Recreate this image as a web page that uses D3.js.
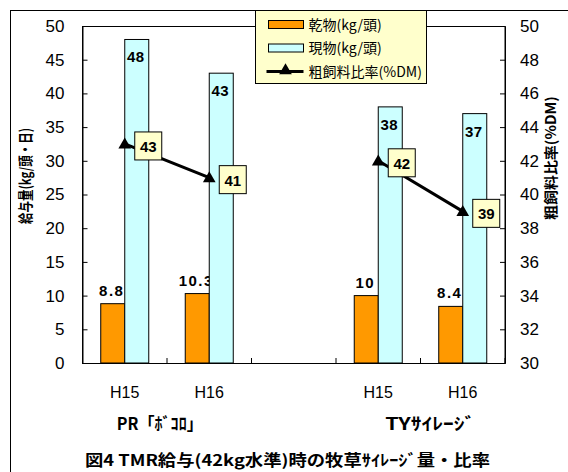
<!DOCTYPE html>
<html>
<head>
<meta charset="utf-8">
<script src="https://cdn.jsdelivr.net/npm/d3@7"></script>
<style>
  html, body { margin: 0; padding: 0; background: #fff; }
  svg { display: block; }
  .num { font-family: "Liberation Sans", Arial, sans-serif; }
  .jp { font-family: "Noto Sans CJK JP", "Noto Sans", sans-serif; }
</style>
</head>
<body>
<script>
// Feed amounts per head and roughage ratio, by year and silage type
const categories = ["H15", "H16", "", "H15", "H16"];
const dryMatter = [8.8, 10.3, null, 10, 8.4];        // 乾物 (kg/頭)
const freshMatter = [48, 43, null, 38, 37];          // 現物 (kg/頭)
const roughageRatio = [43, 41, null, 42, 39];        // 粗飼料比率 (%DM)
const groupLabels = ["PR「ﾎﾞｺﾛ」", "TYｻｲﾚｰｼﾞ"];
const leftTicks = [0, 5, 10, 15, 20, 25, 30, 35, 40, 45, 50];
const rightTicks = [30, 32, 34, 36, 38, 40, 42, 44, 46, 48, 50];

const W = 568, H = 472;
const plot = { left: 82.5, right: 505, top: 26, bottom: 363 };

const svg = d3.select("body").append("svg").attr("width", W).attr("height", H);

// outer chart frame (runs off the right and bottom)
svg.append("rect").attr("x", 10.5).attr("y", 10.5).attr("width", 700).attr("height", 700)
  .attr("fill", "none").attr("stroke", "#000").attr("stroke-width", 1);

const x = d3.scaleBand().domain(d3.range(categories.length)).range([plot.left, plot.right]).padding(0);
const xs = d3.scaleBand().domain(["dry", "fresh"]).range([0, x.bandwidth()])
  .paddingInner(0).paddingOuter(0.76);
const y = d3.scaleLinear().domain([0, 50]).range([plot.bottom, plot.top]);
const y2 = d3.scaleLinear().domain([30, 50]).range([plot.bottom, plot.top]);

// plot area border
svg.append("rect").attr("x", plot.left).attr("y", plot.top + 0.5)
  .attr("width", plot.right - plot.left).attr("height", plot.bottom - plot.top)
  .attr("fill", "#fff").attr("stroke", "#000").attr("stroke-width", 1);

// left axis
const gl = svg.append("g").attr("transform", `translate(${plot.left},0)`)
  .call(d3.axisLeft(y).tickValues(leftTicks).tickSize(-5).tickPadding(18));
// right axis
const gr = svg.append("g").attr("transform", `translate(${plot.right},0)`)
  .call(d3.axisRight(y2).tickValues(rightTicks).tickSize(-5).tickPadding(15));
[gl, gr].forEach(g => {
  g.select(".domain").attr("stroke", "#000");
  g.selectAll(".tick line").attr("stroke", "#000");
  g.selectAll(".tick text").attr("class", "num").attr("font-size", 17).attr("fill", "#000");
});

// category tick marks at slot boundaries (inside)
const bounds = d3.range(categories.length + 1).map(i => i < categories.length ? x(i) : x(i - 1) + x.bandwidth());
svg.append("g").selectAll("line").data(bounds).join("line")
  .attr("x1", d => d).attr("x2", d => d)
  .attr("y1", plot.bottom).attr("y2", plot.bottom - 5)
  .attr("stroke", "#000");
svg.append("line").attr("x1", plot.left).attr("x2", plot.right)
  .attr("y1", plot.bottom + 0.5).attr("y2", plot.bottom + 0.5).attr("stroke", "#000");

const idx = d3.range(categories.length).filter(i => dryMatter[i] != null);

// 乾物 bars
svg.append("g").selectAll("rect").data(idx).join("rect")
  .attr("x", i => x(i) + xs("dry"))
  .attr("y", i => y(dryMatter[i]))
  .attr("width", xs.bandwidth())
  .attr("height", i => y(0) - y(dryMatter[i]))
  .attr("fill", "#FF9900").attr("stroke", "#000").attr("stroke-width", 1);

// 乾物 values above bars
svg.append("g").selectAll("text").data(idx).join("text")
  .attr("class", "num")
  .attr("x", i => x(i) + xs("dry") + xs.bandwidth() / 2 - 1)
  .attr("y", i => y(dryMatter[i]) - 8)
  .attr("text-anchor", "middle").attr("font-size", 15).attr("font-weight", "bold")
  .attr("letter-spacing", 1.5)
  .text(i => dryMatter[i]);

// 現物 bars
svg.append("g").selectAll("rect").data(idx).join("rect")
  .attr("x", i => x(i) + xs("fresh"))
  .attr("y", i => y(freshMatter[i]))
  .attr("width", xs.bandwidth())
  .attr("height", i => y(0) - y(freshMatter[i]))
  .attr("fill", "#CCFFFF").attr("stroke", "#000").attr("stroke-width", 1);

// 現物 values inside bar tops
svg.append("g").selectAll("text").data(idx).join("text")
  .attr("class", "num")
  .attr("x", i => x(i) + xs("fresh") + xs.bandwidth() / 2 - 1)
  .attr("y", i => y(freshMatter[i]) + 23)
  .attr("text-anchor", "middle").attr("font-size", 15).attr("font-weight", "bold")
  .attr("letter-spacing", 0.5)
  .text(i => freshMatter[i]);

// roughage ratio lines (one segment per silage group)
const cx = i => x(i) + x.bandwidth() / 2;
const line = d3.line().defined(d => d != null).x((d, i) => cx(i)).y(d => y2(d));
svg.append("path").datum(roughageRatio).attr("d", line)
  .attr("fill", "none").attr("stroke", "#000").attr("stroke-width", 3);

const tri = d3.symbol().type(d3.symbolTriangle).size(70);
svg.append("g").selectAll("path").data(idx).join("path")
  .attr("d", tri)
  .attr("transform", i => `translate(${cx(i)},${y2(roughageRatio[i]) + 1})`)
  .attr("fill", "#000");

// ratio value boxes
const lab = svg.append("g").selectAll("g").data(idx).join("g")
  .attr("transform", i => `translate(${cx(i) + 10},${y2(roughageRatio[i]) - 12})`);
lab.append("rect").attr("width", 27).attr("height", 28)
  .attr("fill", "#FFFFCC").attr("stroke", "#000").attr("stroke-width", 1);
lab.append("text").attr("class", "num")
  .attr("x", 13.5).attr("y", 20).attr("text-anchor", "middle")
  .attr("font-size", 15).attr("font-weight", "bold")
  .text(i => roughageRatio[i]);

// category labels
svg.append("g").selectAll("text").data(d3.range(categories.length)).join("text")
  .attr("class", "num")
  .attr("x", i => cx(i)).attr("y", 398)
  .attr("text-anchor", "middle").attr("font-size", 16)
  .text(i => categories[i]);

// group labels
const groupStarts = [cx(0) - 8, cx(3) + 7];
const groupWidths = [86, 90];
svg.append("g").selectAll("text").data(groupLabels).join("text")
  .attr("class", "jp")
  .attr("x", (d, i) => groupStarts[i]).attr("y", 430)
  .attr("font-size", 17).attr("font-weight", "bold")
  .attr("textLength", (d, i) => groupWidths[i]).attr("lengthAdjust", "spacingAndGlyphs")
  .text(d => d);

// axis titles
svg.append("text").attr("class", "jp")
  .attr("transform", "translate(31,176) rotate(-90)")
  .attr("text-anchor", "middle").attr("font-size", 15).attr("font-weight", "bold")
  .attr("textLength", 96).attr("lengthAdjust", "spacingAndGlyphs")
  .text("給与量(kg/頭・日)");
svg.append("text").attr("class", "jp")
  .attr("transform", "translate(556,158) rotate(-90)")
  .attr("text-anchor", "middle").attr("font-size", 14).attr("font-weight", "bold")
  .attr("textLength", 124).attr("lengthAdjust", "spacingAndGlyphs")
  .text("粗飼料比率(%DM)");

// chart title
svg.append("text").attr("class", "jp")
  .attr("x", 85).attr("y", 466).attr("font-size", 15.5).attr("font-weight", "bold")
  .attr("textLength", 405).attr("lengthAdjust", "spacingAndGlyphs")
  .text("図4 TMR給与(42kg水準)時の牧草ｻｲﾚｰｼﾞ量・比率");

// legend
const legend = svg.append("g").attr("transform", "translate(255.5,10.5)");
legend.append("rect").attr("width", 171).attr("height", 73)
  .attr("fill", "#FFFFCC").attr("stroke", "#000").attr("stroke-width", 1);
const legendItems = [
  { label: "乾物(kg/頭)", type: "bar", color: "#FF9900" },
  { label: "現物(kg/頭)", type: "bar", color: "#CCFFFF" },
  { label: "粗飼料比率(%DM)", type: "line" }
];
const li = legend.selectAll("g").data(legendItems).join("g")
  .attr("transform", (d, i) => `translate(0,${14 + i * 23.5})`);
li.filter(d => d.type === "bar").append("rect")
  .attr("x", 13).attr("y", -4).attr("width", 35).attr("height", 8)
  .attr("fill", d => d.color).attr("stroke", "#000");
li.filter(d => d.type === "line").append("line")
  .attr("x1", 11).attr("x2", 48).attr("y1", 0).attr("y2", 0)
  .attr("stroke", "#000").attr("stroke-width", 3);
li.filter(d => d.type === "line").append("path")
  .attr("d", tri).attr("transform", "translate(30,-1)").attr("fill", "#000");
li.append("text").attr("class", "jp")
  .attr("x", 53).attr("y", 5).attr("font-size", 14)
  .text(d => d.label);
</script>
</body>
</html>
